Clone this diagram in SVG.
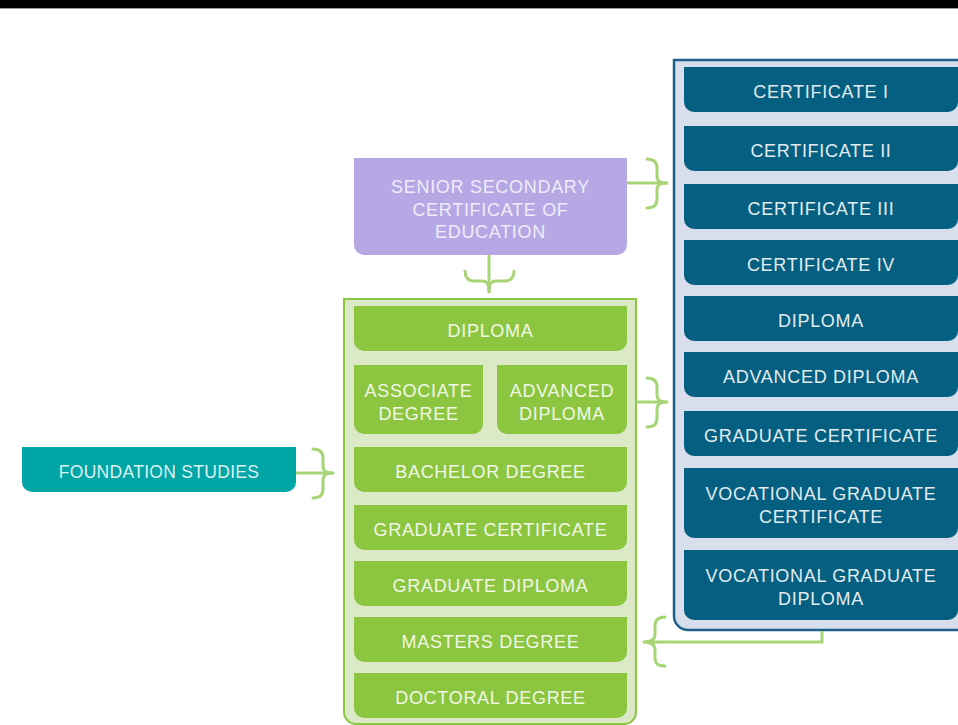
<svg xmlns="http://www.w3.org/2000/svg" width="958" height="725" viewBox="0 0 958 725">
<defs>
<style>
text{font-family:"Liberation Sans","Open Sans",Arial,sans-serif;font-size:18px;letter-spacing:0.7px;text-anchor:middle}
.blue{fill:#045f81}
.blue-t{fill:#e2ebf0}
.green{fill:#8cc640}
.green-t{fill:#f1f7e7}
.purple{fill:#b6a8e4}
.purple-t{fill:#f0ecfa}
.teal{fill:#00a5a6}
.teal-t{fill:#dcf2f2}
.brace{fill:none;stroke:#a7d475;stroke-width:3;stroke-linecap:round;stroke-linejoin:round}
.conn{fill:none;stroke:#a7d475;stroke-width:3}
</style>
</defs>
<rect x="0" y="0" width="958" height="8" fill="#000"/>
<line x1="0" y1="8.5" x2="958" y2="8.5" stroke="#9a9a9a" stroke-width="1"/>

<g id="vet-panel">
<path d="M964,60 H674 V616 A14 14 0 0 0 688,630 H964 Z" fill="#d8deeb" stroke="#1b6188" stroke-width="2.5"/>
</g>
<g id="he-panel">
<path d="M344,299 H636 V712 A12 12 0 0 1 624,724 H356 A12 12 0 0 1 344,712 Z" fill="#dce9c6" stroke="#8cc640" stroke-width="2"/>
</g>

<g id="connectors">
<path class="conn" d="M627,183 H667"/>
<path class="brace" d="M647,159 C654,159 657,162 657,168 V176 C657,181 660,183 667,183 C660,183 657,185 657,190 V199 C657,205 654,208 647,208"/>
<path class="conn" d="M636,402 H667"/>
<path class="brace" d="M647,378 C654,378 657,381 657,387 V395 C657,400 660,402 667,402 C660,402 657,404 657,409 V418 C657,424 654,427 647,427"/>
<path class="conn" d="M296,473 H333"/>
<path class="brace" d="M313,449 C320,449 323,452 323,458 V466 C323,471 326,473 333,473 C326,473 323,475 323,480 V489 C323,495 320,498 313,498"/>
<path class="conn" d="M489,255 V292"/>
<path class="brace" d="M465,271 C465,277 468,281 474,281 H482 C487,281 489,284 489,292 C489,284 491,281 496,281 H505 C511,281 514,277 514,271"/>
<path class="conn" d="M822,631 V642 H644"/>
<path class="brace" d="M665,617 C658,617 655,620 655,626 V634 C655,639 652,642 644,642 C652,642 655,645 655,650 V658 C655,664 658,666 665,666"/>
</g>

<g id="senior-secondary">
<path class="purple" d="M354,158 H627 V245 A10 10 0 0 1 617,255 H364 A10 10 0 0 1 354,245 Z"/>
<text class="purple-t" x="490.5" y="192.5">SENIOR SECONDARY</text>
<text class="purple-t" x="490.5" y="215.5">CERTIFICATE OF</text>
<text class="purple-t" x="490.5" y="238">EDUCATION</text>
</g>

<g id="foundation-studies">
<path class="teal" d="M22,447 H296 V482 A10 10 0 0 1 286,492 H32 A10 10 0 0 1 22,482 Z"/>
<text class="teal-t" x="159" y="477.5" style="font-size:17.5px;letter-spacing:0.3px">FOUNDATION STUDIES</text>
</g>

<g id="he-diploma">
<path class="green" d="M354,306 H627 V341 A10 10 0 0 1 617,351 H364 A10 10 0 0 1 354,341 Z"/>
<text class="green-t" x="490.5" y="337">DIPLOMA</text>
</g>
<g id="he-associate-degree">
<path class="green" d="M354,365 H483 V424 A10 10 0 0 1 473,434 H364 A10 10 0 0 1 354,424 Z"/>
<text class="green-t" x="418.5" y="397">ASSOCIATE</text>
<text class="green-t" x="418.5" y="420">DEGREE</text>
</g>
<g id="he-advanced-diploma">
<path class="green" d="M497,365 H627 V424 A10 10 0 0 1 617,434 H507 A10 10 0 0 1 497,424 Z"/>
<text class="green-t" x="562" y="397">ADVANCED</text>
<text class="green-t" x="562" y="420">DIPLOMA</text>
</g>
<g id="he-bachelor-degree">
<path class="green" d="M354,447 H627 V482 A10 10 0 0 1 617,492 H364 A10 10 0 0 1 354,482 Z"/>
<text class="green-t" x="490.5" y="478">BACHELOR DEGREE</text>
</g>
<g id="he-graduate-certificate">
<path class="green" d="M354,505 H627 V540 A10 10 0 0 1 617,550 H364 A10 10 0 0 1 354,540 Z"/>
<text class="green-t" x="490.5" y="536">GRADUATE CERTIFICATE</text>
</g>
<g id="he-graduate-diploma">
<path class="green" d="M354,561 H627 V596 A10 10 0 0 1 617,606 H364 A10 10 0 0 1 354,596 Z"/>
<text class="green-t" x="490.5" y="592">GRADUATE DIPLOMA</text>
</g>
<g id="he-masters-degree">
<path class="green" d="M354,617 H627 V652 A10 10 0 0 1 617,662 H364 A10 10 0 0 1 354,652 Z"/>
<text class="green-t" x="490.5" y="648">MASTERS DEGREE</text>
</g>
<g id="he-doctoral-degree">
<path class="green" d="M354,673 H627 V708 A10 10 0 0 1 617,718 H364 A10 10 0 0 1 354,708 Z"/>
<text class="green-t" x="490.5" y="704">DOCTORAL DEGREE</text>
</g>

<g id="vet-certificate-1">
<path class="blue" d="M684,67 H958 V102 A10 10 0 0 1 948,112 H694 A10 10 0 0 1 684,102 Z"/>
<text class="blue-t" x="821" y="98">CERTIFICATE I</text>
</g>
<g id="vet-certificate-2">
<path class="blue" d="M684,126 H958 V161 A10 10 0 0 1 948,171 H694 A10 10 0 0 1 684,161 Z"/>
<text class="blue-t" x="821" y="157">CERTIFICATE II</text>
</g>
<g id="vet-certificate-3">
<path class="blue" d="M684,184 H958 V219 A10 10 0 0 1 948,229 H694 A10 10 0 0 1 684,219 Z"/>
<text class="blue-t" x="821" y="215">CERTIFICATE III</text>
</g>
<g id="vet-certificate-4">
<path class="blue" d="M684,240 H958 V275 A10 10 0 0 1 948,285 H694 A10 10 0 0 1 684,275 Z"/>
<text class="blue-t" x="821" y="271">CERTIFICATE IV</text>
</g>
<g id="vet-diploma">
<path class="blue" d="M684,296 H958 V331 A10 10 0 0 1 948,341 H694 A10 10 0 0 1 684,331 Z"/>
<text class="blue-t" x="821" y="327">DIPLOMA</text>
</g>
<g id="vet-advanced-diploma">
<path class="blue" d="M684,352 H958 V387 A10 10 0 0 1 948,397 H694 A10 10 0 0 1 684,387 Z"/>
<text class="blue-t" x="821" y="383">ADVANCED DIPLOMA</text>
</g>
<g id="vet-graduate-certificate">
<path class="blue" d="M684,411 H958 V446 A10 10 0 0 1 948,456 H694 A10 10 0 0 1 684,446 Z"/>
<text class="blue-t" x="821" y="442">GRADUATE CERTIFICATE</text>
</g>
<g id="vet-vocational-graduate-certificate">
<path class="blue" d="M684,468 H958 V528 A10 10 0 0 1 948,538 H694 A10 10 0 0 1 684,528 Z"/>
<text class="blue-t" x="821" y="500">VOCATIONAL GRADUATE</text>
<text class="blue-t" x="821" y="523">CERTIFICATE</text>
</g>
<g id="vet-vocational-graduate-diploma">
<path class="blue" d="M684,550 H958 V610 A10 10 0 0 1 948,620 H694 A10 10 0 0 1 684,610 Z"/>
<text class="blue-t" x="821" y="582">VOCATIONAL GRADUATE</text>
<text class="blue-t" x="821" y="605">DIPLOMA</text>
</g>
</svg>
